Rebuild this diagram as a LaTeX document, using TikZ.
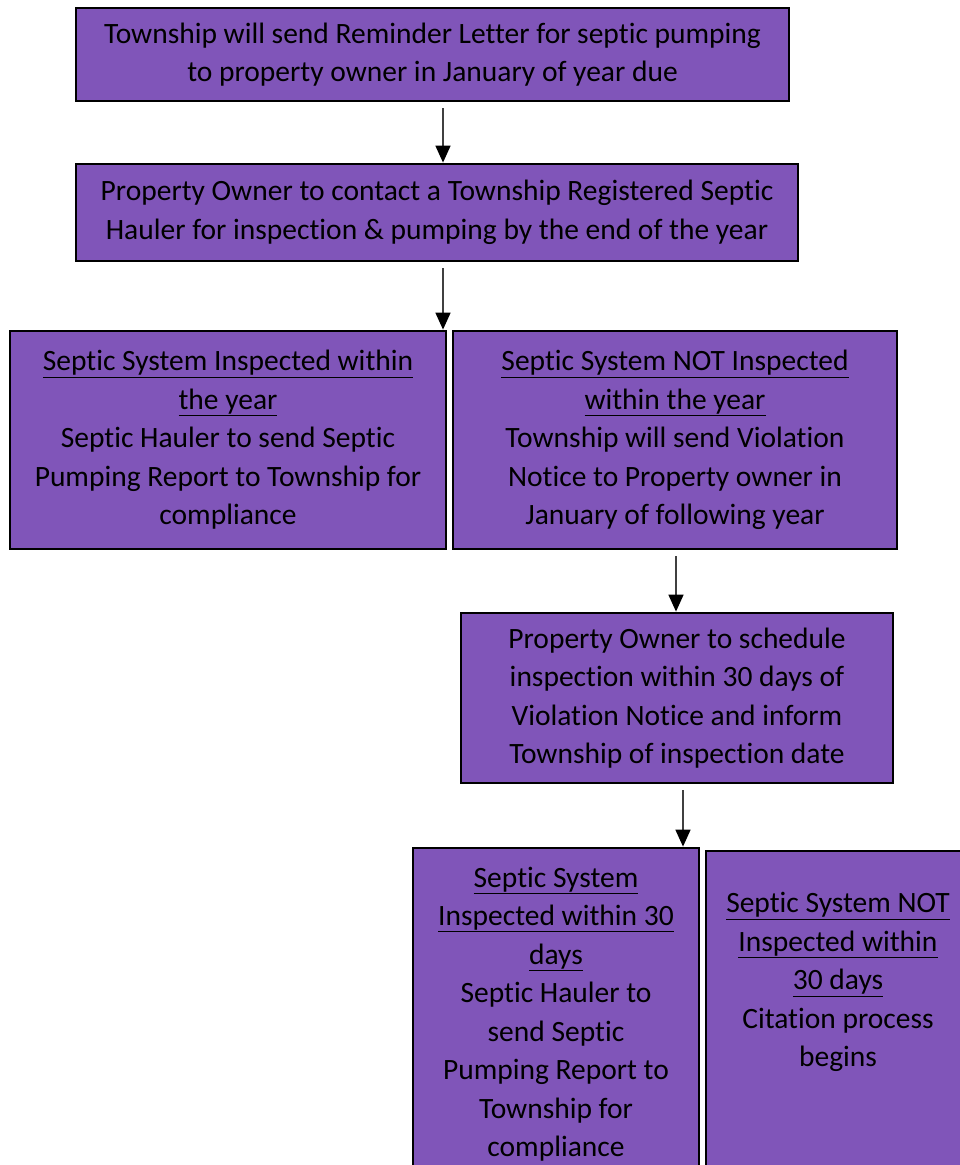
\documentclass[tikz,border=0pt]{standalone}
\usepackage{fontspec}
\setmainfont[Ligatures=NoCommon]{Carlito}
\usetikzlibrary{arrows.meta}
\definecolor{boxpurple}{RGB}{128,85,185}
\definecolor{shaftgray}{RGB}{64,64,64}
\tikzset{
  stepbox/.style={draw=black, line width=2.8pt, fill=boxpurple, align=center,
    inner sep=0pt, font=\fontsize{29.5}{38.5}\selectfont},
  boxtext/.style={align=center, inner sep=0pt, font=\fontsize{29.5}{38.5}\selectfont},
  flowarrow/.style={draw=shaftgray, line width=1.6pt, shorten <=6pt,
    -{Triangle[width=15pt,length=17pt,color=black]}}
}
\begin{document}
\begin{tikzpicture}[x=1pt,y=-1pt]
      \useasboundingbox[fill=white] (0,0) rectangle (959,1165);
      \node[stepbox, minimum width=713pt, minimum height=93pt] (reminder) at (432.5,54.5)
        {Township will send Reminder Letter for septic pumping\\to property owner in January of year due};
      \node[stepbox, minimum width=722pt, minimum height=97pt] (contact) at (437,212.5)
        {Property Owner to contact a Township Registered Septic\\Hauler for inspection \& pumping by the end of the year};
      \node[stepbox, minimum width=436pt, minimum height=218pt] (inspected) at (228,440)
        {\underline{Septic System Inspected within}\\\underline{the year}\\Septic Hauler to send Septic\\Pumping Report to Township for\\compliance};
      \node[stepbox, minimum width=444pt, minimum height=218pt] (missed) at (675,440)
        {\underline{Septic System NOT Inspected}\\\underline{within the year}\\Township will send Violation\\Notice to Property owner in\\January of following year};
      \node[stepbox, minimum width=432pt, minimum height=170pt] (schedule) at (677,698)
        {Property Owner to schedule\\inspection within 30 days of\\Violation Notice and inform\\Township of inspection date};
      \node[stepbox, minimum width=286pt, minimum height=332pt] (inspected30) at (556,1014)
        {\underline{Septic System}\\\underline{Inspected within 30}\\\underline{days}\\Septic Hauler to\\send Septic\\Pumping Report to\\Township for\\compliance};
      \node[stepbox, minimum width=270pt, minimum height=330pt] (citebox) at (841,1016) {};
      \node[boxtext] (citation) at (838,982)
        {\underline{Septic System NOT}\\\underline{Inspected within}\\\underline{30 days}\\Citation process\\begins};
      % connectors
      \draw[flowarrow] ([xshift=10.5pt]reminder.south) -- ([xshift=6pt]contact.north);
      \draw[flowarrow] ([xshift=6pt]contact.south) -- ([xshift=6pt]contact.south |- inspected.north);
      \draw[flowarrow] ([xshift=1pt]missed.south) -- ([xshift=-1pt]schedule.north);
      \draw[flowarrow] ([xshift=6pt]schedule.south) -- ([xshift=6pt]schedule.south |- inspected30.north);
    \end{tikzpicture}
\end{document}
